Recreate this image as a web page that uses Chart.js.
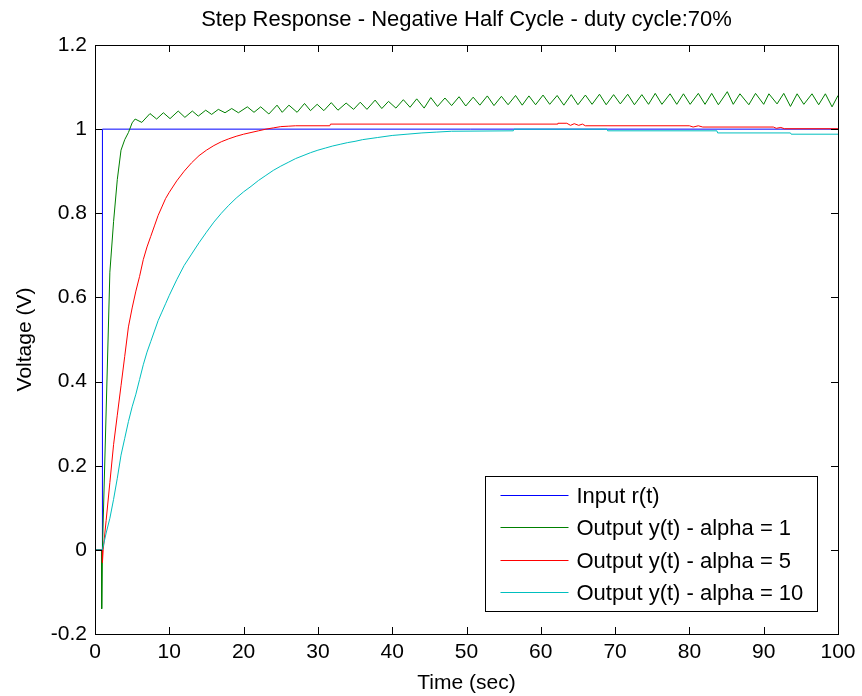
<!DOCTYPE html>
<html>
<head>
<meta charset="utf-8">
<title>Step Response - Negative Half Cycle</title>
<script src="https://cdn.jsdelivr.net/npm/chart.js@4.4.1/dist/chart.umd.min.js"></script>
<style>
  html, body { margin: 0; padding: 0; background: #ffffff; }
  #wrap { width: 862px; height: 696px; position: relative; }
</style>
</head>
<body>
<div id="wrap"><canvas id="chart"></canvas></div>
<script>
// ---- Series data (time in seconds, voltage in volts) ----
const titleText = 'Step Response - Negative Half Cycle - duty cycle:70%';
const xTitle = 'Time (sec)';
const yTitle = 'Voltage (V)';

const xTicks = [0, 10, 20, 30, 40, 50, 60, 70, 80, 90, 100];
const xTickLabels = ['0', '10', '20', '30', '40', '50', '60', '70', '80', '90', '100'];
const yTicks = [-0.2, 0, 0.2, 0.4, 0.6, 0.8, 1.0, 1.2];
const yTickLabels = ['-0.2', '0', '0.2', '0.4', '0.6', '0.8', '1', '1.2'];

const seriesLabels = ['Input r(t)', 'Output y(t) - alpha = 1', 'Output y(t) - alpha = 5', 'Output y(t) - alpha = 10'];

// Input r(t): unit step
const inputT = [0, 1, 1, 100];
const inputV = [0, 0, 1, 1];

// Output, alpha = 1
const alpha1T = [0, 0.9, 0.9, 1.0, 1.5, 2.0, 2.5, 3.0, 3.5, 4.0, 4.5, 5.0, 5.4, 6.3,
  7.4, 8.3, 9.2, 10.1, 11.2, 12.1, 13.1, 13.9, 14.9, 15.7, 16.6, 17.5, 18.4, 19.3,
  20.5, 21.4, 22.3, 23.4, 24.5, 25.2, 26.1, 27.2, 28.2, 29.0, 29.9, 30.8, 31.8, 32.7,
  33.8, 34.8, 35.7, 36.6, 37.7, 38.6, 39.5, 40.5, 41.5, 42.4, 43.3, 44.3, 45.2, 46.1,
  47.1, 48.0, 49.0, 49.9, 50.9, 51.8, 52.8, 53.7, 54.7, 55.6, 56.6, 57.5, 58.4, 59.3,
  60.3, 61.2, 62.2, 63.1, 64.1, 65.0, 66.0, 66.9, 67.9, 68.8, 69.8, 70.7, 71.7, 72.6,
  73.6, 74.5, 75.4, 76.3, 77.4, 78.3, 79.2, 80.1, 81.2, 82.1, 83.0, 83.9, 85.1, 85.9,
  86.8, 88.0, 88.9, 90.0, 90.7, 91.8, 92.7, 93.6, 94.5, 95.4, 96.5, 97.4, 98.3, 99.2, 100];
const alpha1V = [0, 0, -0.14, 0.0, 0.33, 0.66, 0.78, 0.88, 0.95, 0.975, 0.992, 1.015, 1.024, 1.016,
  1.037, 1.024, 1.039, 1.025, 1.043, 1.028, 1.043, 1.031, 1.045, 1.035, 1.047, 1.039, 1.049, 1.039,
  1.053, 1.040, 1.053, 1.036, 1.057, 1.040, 1.057, 1.040, 1.061, 1.044, 1.059, 1.044, 1.063, 1.045,
  1.062, 1.047, 1.064, 1.047, 1.069, 1.049, 1.066, 1.050, 1.070, 1.052, 1.072, 1.050, 1.075, 1.054,
  1.074, 1.056, 1.077, 1.055, 1.076, 1.057, 1.079, 1.056, 1.078, 1.058, 1.080, 1.057, 1.079, 1.058,
  1.081, 1.059, 1.080, 1.057, 1.082, 1.058, 1.081, 1.059, 1.083, 1.058, 1.082, 1.060, 1.083, 1.058,
  1.082, 1.059, 1.085, 1.059, 1.084, 1.059, 1.084, 1.059, 1.085, 1.059, 1.085, 1.058, 1.089, 1.059,
  1.084, 1.058, 1.085, 1.059, 1.084, 1.060, 1.085, 1.054, 1.084, 1.059, 1.084, 1.058, 1.084, 1.053, 1.080];

// Output, alpha = 5
const alpha5T = [0, 1, 1, 1.1, 1.5, 2, 2.5, 3, 3.5, 4, 4.5, 5, 5.5, 6, 6.5, 7, 7.5, 8, 8.5, 9, 9.5, 10,
  11, 12, 13, 14, 15, 16, 17, 18, 19, 20, 21, 22, 23, 24, 25, 26, 27, 31.6, 31.7, 62.2, 62.3, 63.5,
  64.0, 64.5, 65.1, 65.6, 66.0, 80.0, 80.5, 81.2, 81.8, 91.3, 91.7, 92.3, 92.8, 100];
const alpha5V = [0, 0, -0.03, 0.0, 0.07, 0.16, 0.25, 0.32, 0.39, 0.46, 0.53, 0.575, 0.615, 0.65, 0.69, 0.72, 0.745, 0.77, 0.795, 0.815, 0.835, 0.85,
  0.877, 0.9, 0.92, 0.937, 0.95, 0.961, 0.97, 0.977, 0.983, 0.988, 0.992, 0.996, 1.0, 1.003, 1.006, 1.007, 1.008, 1.008, 1.012, 1.012, 1.014, 1.014,
  1.009, 1.013, 1.009, 1.012, 1.008, 1.008, 1.005, 1.008, 1.005, 1.005, 1.002, 1.004, 1.001, 1.001];

// Output, alpha = 10
const alpha10T = [0, 1, 1.5, 2, 2.5, 3, 3.5, 4, 4.5, 5, 5.5, 6, 6.5, 7, 7.5, 8, 8.5, 9, 9.5, 10,
  11, 12, 13, 14, 15, 16, 17, 18, 19, 20, 21, 22, 23, 24, 25, 26, 27, 28, 29, 30, 31, 32, 33, 34, 35, 36,
  38, 40, 42, 44, 46, 48, 56.3, 56.4, 68.9, 69.0, 83.7, 83.8, 93.6, 93.7, 100];
const alpha10V = [0, 0, 0.04, 0.075, 0.12, 0.17, 0.225, 0.265, 0.305, 0.34, 0.37, 0.405, 0.44, 0.47, 0.495, 0.52, 0.545, 0.565, 0.585, 0.605,
  0.642, 0.676, 0.703, 0.73, 0.755, 0.779, 0.8, 0.819, 0.836, 0.851, 0.864, 0.878, 0.89, 0.902, 0.912, 0.921, 0.93, 0.937, 0.944, 0.95, 0.955, 0.96, 0.964, 0.968, 0.971, 0.975,
  0.98, 0.985, 0.988, 0.991, 0.993, 0.995, 0.996, 1.0, 1.0, 0.996, 0.996, 0.991, 0.991, 0.988, 0.988];

const seriesColors = ['rgb(0,0,255)', 'rgb(0,128,0)', 'rgb(255,0,0)', 'rgb(0,191,191)'];

// ---- Helpers ----
const FONT = '"Liberation Sans", Arial, Helvetica, sans-serif';
const toPoints = (t, v) => t.map((x, i) => ({ x: x, y: v[i] }));

// White figure background
const whiteBg = {
  id: 'whiteBg',
  beforeDraw(chart) {
    const { ctx, width, height } = chart;
    ctx.save();
    ctx.fillStyle = '#ffffff';
    ctx.fillRect(0, 0, width, height);
    ctx.restore();
  }
};

// Box frame with inward tick marks on all four sides
const axesBox = {
  id: 'axesBox',
  afterDatasetsDraw(chart, args, opts) {
    const { ctx, chartArea: a, scales } = chart;
    const len = opts.tickLength;
    ctx.save();
    ctx.strokeStyle = '#000';
    ctx.lineWidth = 1;
    ctx.beginPath();
    xTicks.forEach(v => {
      const px = Math.round(scales.x.getPixelForValue(v)) + 0.5;
      ctx.moveTo(px, a.bottom); ctx.lineTo(px, a.bottom - len);
      ctx.moveTo(px, a.top); ctx.lineTo(px, a.top + len);
    });
    yTicks.forEach(v => {
      const py = Math.round(scales.y.getPixelForValue(v)) + 0.5;
      ctx.moveTo(a.left, py); ctx.lineTo(a.left + len, py);
      ctx.moveTo(a.right, py); ctx.lineTo(a.right - len, py);
    });
    ctx.stroke();
    ctx.strokeRect(Math.round(a.left) + 0.5, Math.round(a.top) + 0.5,
      Math.round(a.right - a.left), Math.round(a.bottom - a.top));
    ctx.restore();
  }
};

// Boxed legend inside the lower-right of the plot
const boxLegend = {
  id: 'boxLegend',
  afterDatasetsDraw(chart, args, o) {
    const { ctx, chartArea: a } = chart;
    const left = Math.round(a.right - o.right - o.width) + 0.5;
    const top = Math.round(a.bottom - o.bottom - o.height) + 0.5;
    ctx.save();
    ctx.fillStyle = '#ffffff';
    ctx.fillRect(left, top, o.width, o.height);
    ctx.strokeStyle = '#000';
    ctx.lineWidth = 1;
    ctx.strokeRect(left, top, o.width, o.height);
    ctx.font = o.fontSize + 'px ' + FONT;
    ctx.textBaseline = 'middle';
    ctx.textAlign = 'left';
    chart.data.datasets.forEach((ds, i) => {
      const y = Math.round(top + o.firstRow + i * o.rowGap) + 0.5;
      ctx.strokeStyle = ds.borderColor;
      ctx.beginPath();
      ctx.moveTo(left + o.lineStart, y);
      ctx.lineTo(left + o.lineEnd, y);
      ctx.stroke();
      ctx.fillStyle = '#000';
      ctx.fillText(ds.label, left + o.textStart, y + 1);
    });
    ctx.restore();
  }
};

const datasets = [
  { label: seriesLabels[0], data: toPoints(inputT, inputV), order: 4 },
  { label: seriesLabels[1], data: toPoints(alpha1T, alpha1V), order: 3 },
  { label: seriesLabels[2], data: toPoints(alpha5T, alpha5V), order: 2 },
  { label: seriesLabels[3], data: toPoints(alpha10T, alpha10V), order: 1 }
].map((d, i) => Object.assign(d, {
  borderColor: seriesColors[i],
  backgroundColor: seriesColors[i],
  borderWidth: 1,
  pointRadius: 0,
  tension: 0,
  fill: false
}));

new Chart(document.getElementById('chart'), {
  type: 'line',
  data: { datasets: datasets },
  plugins: [whiteBg, axesBox, boxLegend],
  options: {
    responsive: true,
    maintainAspectRatio: false,
    devicePixelRatio: 1,
    animation: false,
    layout: { padding: { left: 0, right: 24, top: 0, bottom: 0 } },
    plugins: {
      legend: { display: false },
      tooltip: { enabled: false },
      title: {
        display: true,
        fullSize: false,
        text: titleText,
        color: '#000',
        font: { family: FONT, size: 22, weight: 'normal' },
        padding: { top: 7, bottom: 11.6 }
      },
      axesBox: { tickLength: 7 },
      boxLegend: {
        right: 21, bottom: 23, width: 332, height: 135,
        firstRow: 18.5, rowGap: 32.3,
        lineStart: 15, lineEnd: 83, textStart: 91, fontSize: 22
      }
    },
    scales: {
      x: {
        type: 'linear',
        min: 0, max: 100,
        grid: { display: false, drawTicks: false },
        border: { display: false },
        afterBuildTicks: s => { s.ticks = xTicks.map(v => ({ value: v })); },
        afterFit: s => { s.height = 62; },
        ticks: {
          color: '#000',
          font: { family: FONT, size: 21 },
          padding: 6,
          maxRotation: 0,
          autoSkip: false,
          callback: (v) => xTickLabels[xTicks.indexOf(v)]
        },
        title: {
          display: true, text: xTitle, color: '#000',
          font: { family: FONT, size: 21 },
          padding: { top: 0, bottom: 0 }
        }
      },
      y: {
        type: 'linear',
        min: -0.2, max: 1.2,
        grid: { display: false, drawTicks: false },
        border: { display: false },
        afterBuildTicks: s => { s.ticks = yTicks.map(v => ({ value: v })); },
        afterFit: s => { s.width = 95; },
        ticks: {
          color: '#000',
          font: { family: FONT, size: 21 },
          padding: 8,
          autoSkip: false,
          callback: (v) => yTickLabels[yTicks.indexOf(v)]
        },
        title: {
          display: true, text: yTitle, color: '#000',
          font: { family: FONT, size: 21 },
          padding: { top: 13, bottom: 0 }
        }
      }
    }
  }
});
</script>
</body>
</html>
